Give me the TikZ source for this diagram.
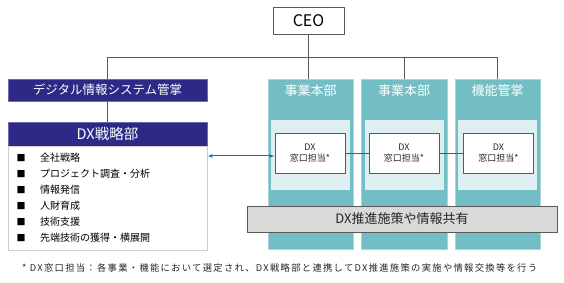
\documentclass[tikz,border=0pt]{standalone}
\usepackage{fontspec}
\setmainfont{Noto Sans CJK JP}
\usetikzlibrary{arrows.meta,positioning}
\definecolor{dxNavy}{HTML}{2C2A86}
\definecolor{dxTeal}{HTML}{72BEC4}
\definecolor{dxTealEdge}{HTML}{A6D6DA}
\definecolor{dxPale}{HTML}{DDEFF0}
\definecolor{dxGrey}{HTML}{D9D9D9}
\definecolor{dxLine}{HTML}{595959}
\definecolor{dxBlue}{HTML}{1F6FC0}
\definecolor{dxInk}{HTML}{262626}

\begin{document}
\begin{tikzpicture}[x=1pt,y=-1pt,>=Latex,line cap=round,line join=round]
\path[fill=white] (0,0) rectangle (564,283);
\useasboundingbox (0,0) rectangle (564,283);
\tikzset{orgline/.style={draw=dxLine,line width=0.9pt},navybox/.style={draw=dxNavy!70,fill=dxNavy,text=white,minimum width=199pt,inner sep=0pt},column/.style={draw=dxTealEdge,fill=dxTeal,line width=0.8pt,minimum width=85pt,minimum height=170pt,inner sep=0pt},panel/.style={fill=dxPale,minimum width=79pt,minimum height=70pt,inner sep=0pt},contact/.style={draw=dxLine,fill=white,line width=0.9pt,minimum width=70pt,minimum height=40pt,inner sep=0pt,align=center,font=\fontsize{9}{11}\selectfont,text=dxInk},listitem/.style={anchor=west,inner sep=0pt,font=\fontsize{10}{12}\selectfont,text=black}}
% top of the chart
\node[draw=dxLine,fill=white,line width=0.9pt,minimum width=71pt,minimum height=27pt,inner sep=0pt,font=\fontsize{16}{18}\selectfont] (ceo) at (308.5,20.5) {CEO};
\coordinate (bus) at (0,57);
% left side: DX strategy department
\node[navybox,minimum height=22pt,font=\fontsize{12.5}{14}\selectfont] (digi) at (107.5,90) {デジタル情報システム管掌};
\node[navybox,minimum height=24pt,font=\fontsize{14.5}{16}\selectfont] (dxhead) at (107.5,134) {DX戦略部};
\node[draw=black!20,fill=white,line width=0.8pt,minimum width=199pt,minimum height=104pt,inner sep=0pt,anchor=north] (dxlist) at (dxhead.south) {};
\foreach \task [count=\i] in {全社戦略,プロジェクト調査・分析,情報発信,人財育成,技術支援,先端技術の獲得・横展開}
{
  \node[inner sep=0pt,font=\fontsize{9}{10}\selectfont] (bullet\i) at (21,142+16*\i) {■};
  \node[listitem] (task\i) at (40,142+16*\i) {\task};
}
% right side: business units
\node[column] (col1) at (310.5,164) {};
\node[column,minimum width=86pt] (col2) at (404,164) {};
\node[column] (col3) at (497.5,164) {};
\foreach \unit/\title in {1/事業本部,2/事業本部,3/機能管掌}
{
  \node[text=white,font=\fontsize{13}{15}\selectfont] (head\unit) at ([yshift=-12pt]col\unit.north) {\title};
  \node[panel] (panel\unit) at ([yshift=9pt]col\unit.center) {};
}
\node[contact] (box1) at (310,153) {DX\\窓口担当*};
\node[contact] (box2) at (404,153) {DX\\窓口担当*};
\node[contact] (box3) at (498.5,153) {DX\\窓口担当*};
\node[draw=dxLine,fill=dxGrey,line width=0.9pt,minimum width=310pt,minimum height=26pt,inner sep=0pt,font=\fontsize{13}{15}\selectfont,text=dxInk] (share) at (402,219) {DX推進施策や情報共有};
% connectors
\draw[orgline] (ceo.south) -- (ceo.south |- col1.north);
\draw[orgline] (digi.north) |- (col3.north |- bus) -- (col3.north);
\draw[orgline] (col2.north) -- (col2.north |- bus);
\draw[orgline] (digi.south) -- (dxhead.north);
\draw[orgline] (box1.east) -- (box2.west);
\draw[orgline] (box2.east) -- (box3.west);
\draw[draw=dxBlue,line width=1pt,{Latex[length=5pt,width=4pt]}-{Latex[length=5pt,width=4pt]}] ([yshift=-3pt]dxlist.east |- box1.west) -- ([yshift=-3pt]box1.west);
% footnote
\node[anchor=west,inner sep=0pt,font=\fontsize{9.3}{11}\selectfont\addfontfeatures{LetterSpace=14},text=dxInk] (note) at (22,268) {* DX窓口担当：各事業・機能において選定され、DX戦略部と連携してDX推進施策の実施や情報交換等を行う};
\end{tikzpicture}
\end{document}
